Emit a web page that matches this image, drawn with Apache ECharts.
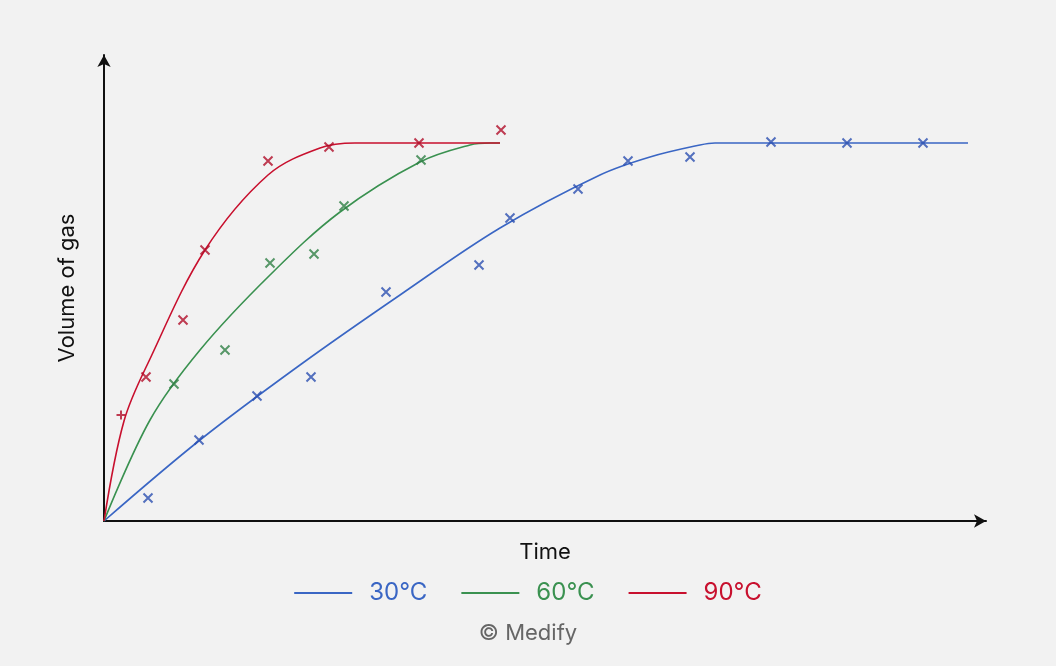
<!DOCTYPE html><html><head><meta charset="utf-8"><script src="https://cdn.jsdelivr.net/npm/echarts@6/dist/echarts.min.js"></script>
<style>body{margin:0;background:#f2f2f2}#c{width:1056px;height:666px}</style></head><body><div id="c"></div><script>
const curve30=[[0,0],[96,81],[196,156],[296,226],[396,293],[496,346],[546,364],[596,376],[611,378],[864,378]];
const curve60=[[0,0],[46,101],[96,171],[166,246],[236,309],[316,359],[366,376],[386,378],[396,378]];
const curve90=[[0,0],[20,100],[45,160],[101,271],[164,346],[216,373],[251,378],[396,378]];
const pts30=[[44,23],[95,81],[153,125],[207,144],[282,229],[375,256],[406,303],[474,332],[524,360],[586,364],[667,379],[743,378],[819,378]];
const pts60=[[70,137],[121,171],[166,258],[210,267],[240,315],[317,361]];
const pts90=[[42,144],[79,201],[101,271],[164,360],[225,374],[315,378],[397,391]];
const pts90plus=[[17,106]];
const X='path://M0,0L10,10M10,0L0,10';
const P='path://M5,0L5,10M0,5L10,5';
const c={b:'#3a66c4',g:'#3a9150',r:'#c8102e'};
const mk={b:'#2a4fb0',g:'#2f8045',r:'#b00d28'};
function line(n,d,col){return {name:n,type:'line',data:d,smooth:0.35,symbol:'none',lineStyle:{color:col,width:1.6},itemStyle:{color:col}};}
function sc(d,col,s){return {type:'scatter',data:d,symbol:s||X,symbolSize:9,itemStyle:{color:'none',borderColor:col,borderWidth:2},z:5};}
const ch=echarts.init(document.getElementById('c'));
ch.setOption({backgroundColor:'#f2f2f2',animation:false,
grid:{left:104,right:70,top:55,bottom:145},
xAxis:{type:'value',min:0,max:882,name:'Time',nameLocation:'middle',nameGap:20,nameTextStyle:{fontSize:22,color:'#111',fontFamily:'Inter'},axisLine:{lineStyle:{color:'#111',width:2},symbol:['none','arrow'],symbolSize:[10,12]},axisTick:{show:false},axisLabel:{show:false},splitLine:{show:false}},
yAxis:{type:'value',min:0,max:466,name:'Volume of gas',nameLocation:'middle',nameGap:26,nameTextStyle:{fontSize:22,color:'#111',fontFamily:'Inter'},axisLine:{show:true,lineStyle:{color:'#111',width:2},symbol:['none','arrow'],symbolSize:[10,12]},axisTick:{show:false},axisLabel:{show:false},splitLine:{show:false}},
legend:{bottom:56,left:'center',itemWidth:58,itemHeight:2,itemGap:34,icon:'rect',textStyle:{fontSize:24,fontFamily:'Inter',padding:[0,0,0,12]},
data:[{name:'30°C',textStyle:{color:c.b}},{name:'60°C',textStyle:{color:c.g}},{name:'90°C',textStyle:{color:c.r}}]},
graphic:[{type:'text',left:'center',top:622,style:{text:'© Medify',fontSize:22,fill:'#666',fontFamily:'Inter'}}],
series:[line('30°C',curve30,c.b),line('60°C',curve60,c.g),line('90°C',curve90,c.r),sc(pts30,mk.b),sc(pts60,mk.g),sc(pts90,mk.r),sc(pts90plus,mk.r,P)]});
</script></body></html>
